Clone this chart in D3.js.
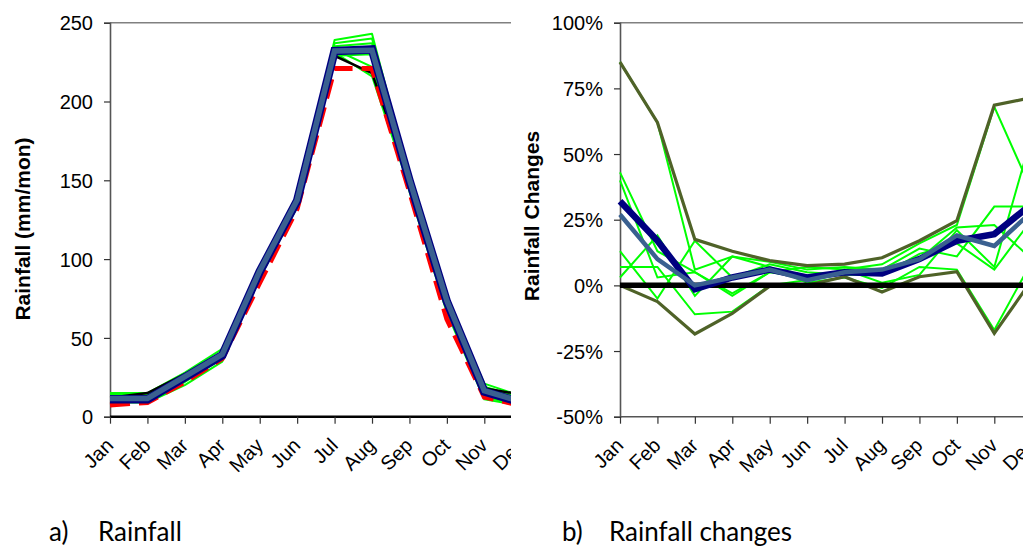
<!DOCTYPE html>
<html>
<head>
<meta charset="utf-8">
<script src="https://cdn.jsdelivr.net/npm/d3@7"></script>
<style>
  html, body { margin: 0; padding: 0; background: #fff; }
  svg { display: block; }
  .tick-label { font-family: "Liberation Sans", Arial, sans-serif; font-size: 20px; fill: #000; }
  .axis-title { font-family: "Liberation Sans", Arial, sans-serif; font-size: 21px; font-weight: bold; fill: #000; }
  .caption { font-family: Lato, "Open Sans", sans-serif; font-size: 26px; fill: #000; }
</style>
</head>
<body>
<svg id="chart" width="1023" height="547"></svg>
<script>
// ---- Data ----
const months = ["Jan","Feb","Mar","Apr","May","Jun","Jul","Aug","Sep","Oct","Nov","Dec"];

// Panel a: monthly rainfall (mm/mon)
const rainTicks = [0, 50, 100, 150, 200, 250];
const rainModels = [
  [15, 15, 28, 43, 93, 140, 239, 243, 152, 75, 21, 13],
  [14, 14, 26, 41, 92, 138, 237, 240, 150, 73, 19, 12],
  [12, 12, 25, 40, 91, 137, 235, 237, 148, 72, 17, 10],
  [11, 11, 23, 38, 90, 136, 233, 222, 146, 70, 14, 9],
  [10, 10, 22, 37, 89, 135, 231, 216, 145, 68, 12, 8],
  [9, 9, 20, 35, 88, 133, 229, 230, 143, 66, 11, 7]
];
const rainObserved = [12, 15, 27, 38, 90, 135, 229, 218, 150, 72, 18, 14];
const rainBaseline = [7.5, 9, 22, 37, 85, 132, 221, 221, 143, 62, 12.5, 7];
const rainMeanA = [11, 11, 25, 39, 92, 137, 232, 233, 150, 73, 16, 9];
const rainMeanB = [11.5, 11.5, 25.5, 39.5, 92.5, 137.5, 232, 232.5, 150.5, 73.5, 16.5, 9.5];

// Panel b: rainfall changes (%)
const changeTicks = [-50, -25, 0, 25, 50, 75, 100];
const changeModels = [
  [43, 13, 5, -4, 5, 7, 6, 8, 16, 23, 68, 36],
  [85, 62, 6, 11, 9, 6, 7, 6, 14, 11, 30, 30],
  [13, -5, 17, 3, 8, 5, 4, 4, 10, 22, 23, 10],
  [7, 7, -11, -10, 0, 2, 6, 1, 4, 21, 7, 57],
  [3, 19, -4, 11, 7, 1, 3, -1, 7, 6, -17, 9],
  [40, 3, 5, -3, 5, 3, 5, 4, 12, 16, 6, 25]
];
const changeUpper = [85, 62, 17.5, 13, 9.4, 7.5, 8.1, 10.5, 17, 24.6, 68.6, 71.5];
const changeLower = [0, -6.2, -18.5, -10.7, -0.3, 0, 3.3, -2.5, 3.3, 5.2, -18.3, 2];
const changeMeanA = [32, 17, -1.5, 3, 6, 3, 5, 4.5, 10, 17, 19.5, 31];
const changeMeanB = [27, 10, 0, 3, 6, 2, 5, 6, 10, 19, 15, 28];

// ---- Drawing ----
const svg = d3.select("#chart");

function panel(opts) {
  const g = svg.append("g");
  const clipId = "clip-" + opts.id;
  svg.append("clipPath").attr("id", clipId)
    .append("rect").attr("x", opts.clipX0).attr("y", 0)
    .attr("width", opts.clipX1 - opts.clipX0).attr("height", 505);
  g.attr("clip-path", `url(#${clipId})`);

  const x = d3.scalePoint().domain(months).range([opts.x0, opts.x0 + 11 * 37.43]);
  const y = d3.scaleLinear().domain(opts.domain).range([416.7, 22.7]);

  // frame: top border
  g.append("line").attr("x1", opts.x0).attr("x2", opts.clipX1)
    .attr("y1", y(opts.domain[1])).attr("y2", y(opts.domain[1]))
    .attr("stroke", "#808080").attr("stroke-width", 1.6);

  const yAxis = d3.axisLeft(y).tickValues(opts.ticks).tickSize(6).tickFormat(opts.fmt);
  const ya = g.append("g").attr("transform", `translate(${opts.x0},0)`).call(yAxis);
  ya.select(".domain").attr("stroke", "#555").attr("stroke-width", 1.6);
  ya.selectAll(".tick line").attr("stroke", "#333").attr("stroke-width", 1.2);
  ya.selectAll(".tick text").attr("class", "tick-label").attr("x", -17).attr("dy", "0.36em");

  const xAxis = d3.axisBottom(x).tickSize(7).tickFormat(d => d);
  const xa = g.append("g").attr("transform", `translate(0,${y(opts.domain[0])})`).call(xAxis);
  xa.select(".domain").attr("stroke", opts.bottomColor).attr("stroke-width", opts.bottomWidth)
    .attr("d", `M${opts.x0},0H${opts.clipX1 + 10}`);
  xa.selectAll(".tick line").attr("stroke", "#333").attr("stroke-width", 1.2);
  xa.selectAll(".tick text").attr("class", "tick-label")
    .attr("text-anchor", "end").attr("dy", null)
    .attr("transform", "translate(4,30) rotate(-45)")
    .attr("y", 0).attr("x", 0);

  const line = d3.line().x((d, i) => x(months[i])).y(d => y(d));
  return { g, x, y, line };
}

// Panel a
const pa = panel({ id: "a", x0: 110, clipX0: 0, clipX1: 511, domain: [0, 250],
  ticks: rainTicks, fmt: d3.format("d"), bottomColor: "#000", bottomWidth: 2.6 });

rainModels.forEach(s => pa.g.append("path").datum(s).attr("d", pa.line)
  .attr("fill", "none").attr("stroke", "#00ff00").attr("stroke-width", 2).attr("stroke-linejoin", "round"));
pa.g.append("path").datum(rainObserved).attr("d", pa.line)
  .attr("fill", "none").attr("stroke", "#000").attr("stroke-width", 2.5);
pa.g.append("path").datum(rainBaseline).attr("d", pa.line)
  .attr("fill", "none").attr("stroke", "#ff0000").attr("stroke-width", 5)
  .attr("stroke-dasharray", "20,9");
pa.g.append("path").datum(rainMeanA).attr("d", pa.line)
  .attr("fill", "none").attr("stroke", "#000080").attr("stroke-width", 8.5);
pa.g.append("path").datum(rainMeanB).attr("d", pa.line)
  .attr("fill", "none").attr("stroke", "#3a6090").attr("stroke-width", 5.5);

svg.append("text").attr("class", "axis-title")
  .attr("transform", "translate(30,229) rotate(-90)")
  .attr("text-anchor", "middle").text("Rainfall (mm/mon)");

// Panel b
const pb = panel({ id: "b", x0: 620, clipX0: 511, clipX1: 1023, domain: [-50, 100],
  ticks: changeTicks, fmt: d => d + "%", bottomColor: "#555", bottomWidth: 1.6 });

changeModels.forEach(s => pb.g.append("path").datum(s).attr("d", pb.line)
  .attr("fill", "none").attr("stroke", "#00ff00").attr("stroke-width", 2));
[changeUpper, changeLower].forEach(s => pb.g.append("path").datum(s).attr("d", pb.line)
  .attr("fill", "none").attr("stroke", "#4f6228").attr("stroke-width", 3.2));
pb.g.append("line").attr("x1", pb.x("Jan")).attr("x2", 1030)
  .attr("y1", pb.y(0)).attr("y2", pb.y(0))
  .attr("stroke", "#000").attr("stroke-width", 5.5);
pb.g.append("path").datum(changeMeanA).attr("d", pb.line)
  .attr("fill", "none").attr("stroke", "#000080").attr("stroke-width", 6.5);
pb.g.append("path").datum(changeMeanB).attr("d", pb.line)
  .attr("fill", "none").attr("stroke", "#3a6090").attr("stroke-width", 4.5);

svg.append("text").attr("class", "axis-title")
  .attr("transform", "translate(539,216) rotate(-90)")
  .attr("text-anchor", "middle").text("Rainfall Changes");

// Captions
svg.append("text").attr("class", "caption").attr("x", 49).attr("y", 541).text("a)");
svg.append("text").attr("class", "caption").attr("x", 98).attr("y", 541).text("Rainfall");
svg.append("text").attr("class", "caption").attr("x", 562).attr("y", 541).text("b)");
svg.append("text").attr("class", "caption").attr("x", 609).attr("y", 541).text("Rainfall changes");
</script>
</body>
</html>
